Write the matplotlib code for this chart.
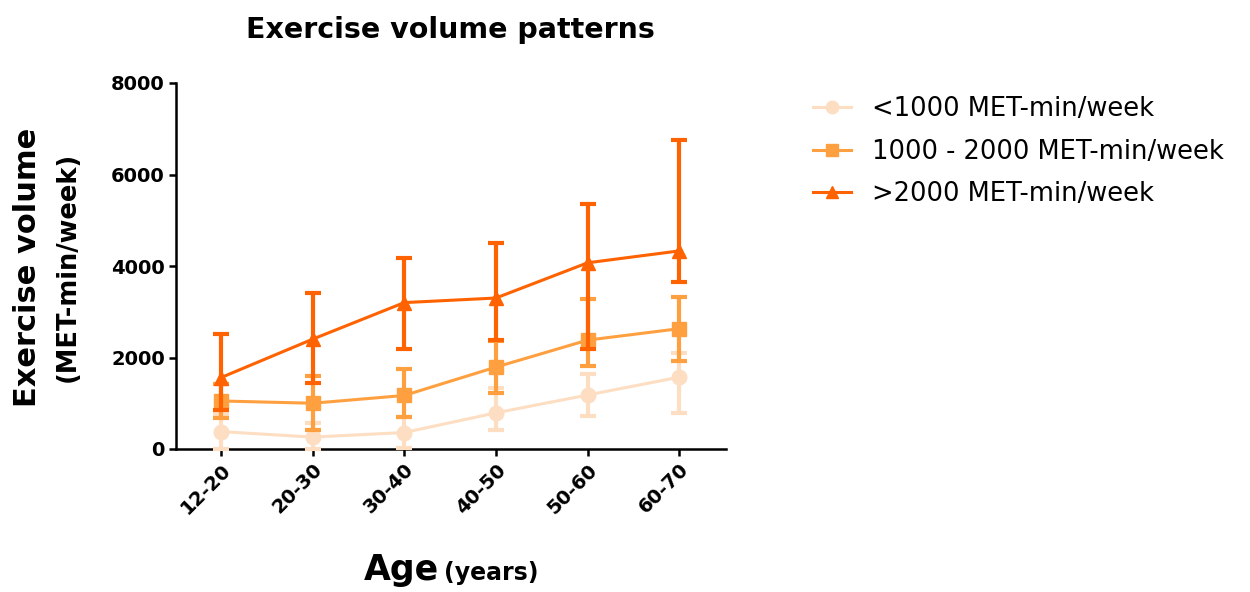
import matplotlib
matplotlib.use("Agg")
import matplotlib.pyplot as plt
from matplotlib.lines import Line2D
import numpy as np

plt.rcParams['font.family'] = ['DejaVu Sans']

ages = ['12-20', '20-30', '30-40', '40-50', '50-60', '60-70']

low_mean = [380, 260, 360, 790, 1180, 1570]
low_err_lo = [380, 260, 330, 375, 460, 785]
low_err_hi = [380, 310, 330, 550, 460, 525]

mid_mean = [1050, 1000, 1170, 1790, 2380, 2630]
mid_err_lo = [380, 590, 470, 570, 570, 710]
mid_err_hi = [380, 590, 570, 570, 890, 690]

high_mean = [1560, 2400, 3200, 3300, 4070, 4330]
high_err_lo = [700, 960, 1020, 920, 1890, 680]
high_err_hi = [955, 1010, 975, 1200, 1285, 2425]

labels = ['<1000 MET-min/week', '1000 - 2000 MET-min/week', '>2000 MET-min/week']
colors = ['#FDDEC2', '#FFA040', '#FF6200']
markers = ['o', 's', '^']

fig = plt.figure(figsize=(12.5, 5.92), dpi=100)
ax = fig.add_axes([176 / 1250, 1 - 449 / 592, 550 / 1250, 366 / 592])

x = np.arange(len(ages))
series = [
    (low_mean, low_err_lo, low_err_hi),
    (mid_mean, mid_err_lo, mid_err_hi),
    (high_mean, high_err_lo, high_err_hi),
]
for i, (m, lo, hi) in enumerate(series):
    ax.errorbar(x, m, yerr=[lo, hi], color=colors[i], marker=markers[i],
                markersize=10.5, linewidth=2.2, elinewidth=3.0, capsize=5.5,
                capthick=3.0, zorder=3 + i, clip_on=False)

ax.set_xlim(-0.49, 5.51)
ax.set_ylim(0, 8000)
ax.set_yticks([0, 2000, 4000, 6000, 8000])
ax.set_xticks(x)
ax.set_xticklabels(ages, rotation=45, ha='right', rotation_mode='anchor',
                   fontsize=14, fontweight='bold')
for lab in ax.get_yticklabels():
    lab.set_fontsize(14)
    lab.set_fontweight('bold')
for s in ['top', 'right']:
    ax.spines[s].set_visible(False)
for s in ['left', 'bottom']:
    ax.spines[s].set_linewidth(1.8)
ax.tick_params(axis='both', width=1.8, length=5, direction='out', pad=3)

fig.text(450 / 1250, 1 - 38 / 592, 'Exercise volume patterns', fontsize=20.5,
         fontweight='bold', ha='center', va='baseline')

fig.text(28 / 1250, 0.549, 'Exercise volume', rotation=90, fontsize=22,
         fontweight='bold', ha='center', va='center')
fig.text(68 / 1250, 0.549, '(MET-min/week)', rotation=90, fontsize=18.5,
         fontweight='bold', ha='center', va='center')

fig.text(439 / 1250, 12 / 592, 'Age', fontsize=25, fontweight='bold',
         ha='right', va='baseline')
fig.text(444 / 1250, 12 / 592, '(years)', fontsize=17, fontweight='bold',
         ha='left', va='baseline')

handles = [Line2D([0], [0], color=colors[i], marker=markers[i], markersize=9,
                  linewidth=2.2) for i in range(3)]
fig.legend(handles, labels, loc='upper left', bbox_to_anchor=(792 / 1250, 1 - 75 / 592),
           frameon=False, fontsize=18.5, handlelength=1.5, labelspacing=0.66,
           handletextpad=0.8, borderpad=0.3)

fig.savefig('out.png', dpi=100)
